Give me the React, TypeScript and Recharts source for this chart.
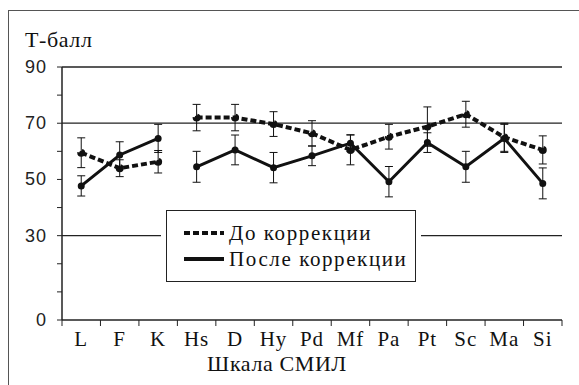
import React from "react";
import {
  ComposedChart,
  ErrorBar,
  Legend,
  Line,
  ReferenceLine,
  XAxis,
  YAxis
} from "recharts";

// MMPI (СМИЛ) scales
const scales = ["L", "F", "K", "Hs", "D", "Hy", "Pd", "Mf", "Pa", "Pt", "Sc", "Ma", "Si"];

// mean T-scores and their spread
const before = [59.5, 54, 56.3, 72, 72, 69.7, 66.4, 60.5, 65.2, 68.8, 73.2, 65, 60.5];
const beforeErr = [5.3, 3, 4, 4.7, 4.7, 4.4, 4.5, 5.3, 4.4, 7, 4.6, 5, 5];
const after = [47.7, 58.7, 64.6, 54.5, 60.5, 54.2, 58.4, 62.9, 49.2, 63.1, 54.5, 64.6, 48.6];
const afterErr = [3.6, 4.7, 5, 5.5, 5.3, 5.4, 3.5, 3, 5.4, 3.5, 5.5, 5, 5.5];

const yTicks = [0, 10, 20, 30, 40, 50, 60, 70, 80, 90];
const yLabels = [0, 30, 50, 70, 90];
const gridValues = [30, 70];

// validity scales (L, F, K) are drawn apart from the clinical ones
const VALIDITY = 3;

const rows = scales.map((scale, i) => ({
  scale,
  before: before[i],
  beforeErr: beforeErr[i],
  after: after[i],
  afterErr: afterErr[i],
  beforeA: i < VALIDITY ? before[i] : null,
  beforeB: i >= VALIDITY ? before[i] : null,
  afterA: i < VALIDITY ? after[i] : null,
  afterB: i >= VALIDITY ? after[i] : null
}));

const SERIF = "Liberation Serif, Times New Roman, serif";
const SANS = "Liberation Sans, Arial, sans-serif";
const INK = "#111";

function YTick(props: any) {
  const { x, y, payload } = props;
  if (!yLabels.includes(payload.value)) return null;
  return (
    <text
      x={x - 8}
      y={y}
      dy={6}
      textAnchor="end"
      fontFamily={SANS}
      fontSize={18}
      letterSpacing={1}
      fill="#222"
    >
      {payload.value}
    </text>
  );
}

// category label at band centre, tick marks on the band edges
function XTick(props: any) {
  const { x, y, payload, index, visibleTicksCount } = props;
  const half = payload.offset ?? 0;
  const last = index === visibleTicksCount - 1;
  return (
    <g>
      <line x1={x - half} y1={y} x2={x - half} y2={y + 6} stroke="#222" />
      {last && <line x1={x + half} y1={y} x2={x + half} y2={y + 6} stroke="#222" />}
      <text
        x={x}
        y={y + 11}
        dy="0.71em"
        textAnchor="middle"
        fontFamily={SERIF}
        fontSize={21}
        letterSpacing={1}
        fill={INK}
      >
        {payload.value}
      </text>
    </g>
  );
}

function LegendBox() {
  const item = (label: string, dash?: string) => (
    <div style={{ display: "flex", alignItems: "center", height: 26 }}>
      <svg width={42} height={10} style={{ marginRight: 4 }}>
        <line x1={1} y1={5} x2={41} y2={5} stroke={INK} strokeWidth={4} strokeDasharray={dash} />
      </svg>
      <span>{label}</span>
    </div>
  );
  return (
    <div style={{ background: "#fff", padding: "0 5px" }}>
      <div
        style={{
          border: "1.5px solid #222",
          padding: "9px 8px 9px 16px",
          fontFamily: SERIF,
          fontSize: 21,
          letterSpacing: 1.6,
          color: INK,
          lineHeight: 1
        }}
      >
        {item("До коррекции", "6 3")}
        {item("После коррекции")}
      </div>
    </div>
  );
}

export default function App() {
  return (
    <div
      style={{
        position: "absolute",
        left: 0,
        top: 0,
        width: 579,
        height: 385,
        background: "#fff",
        overflow: "hidden"
      }}
    >
      <div
        style={{
          position: "absolute",
          left: 8,
          top: 10,
          right: -2,
          bottom: -2,
          borderLeft: "1.5px solid #555",
          borderTop: "1.5px solid #555"
        }}
      />
      <div
        style={{
          position: "absolute",
          left: 25,
          top: 27,
          fontFamily: SERIF,
          fontSize: 22,
          letterSpacing: 0.6,
          color: INK
        }}
      >
        Т-балл
      </div>
      <ComposedChart
        width={579}
        height={385}
        data={rows}
        margin={{ top: 67, right: 17, bottom: 35, left: 22 }}
        style={{ position: "absolute", left: 0, top: 0 }}
      >
        <XAxis
          xAxisId="main"
          dataKey="scale"
          type="category"
          scale="band"
          height={30}
          tickLine={false}
          tickSize={0}
          tickMargin={0}
          axisLine={{ stroke: "#222", strokeWidth: 1.5 }}
          tick={<XTick />}
          interval={0}
        />
        <YAxis
          yAxisId="l"
          domain={[0, 90]}
          ticks={yTicks}
          width={40}
          tickSize={5}
          tick={<YTick />}
          tickLine={{ stroke: "#222" }}
          axisLine={{ stroke: "#222", strokeWidth: 1.5 }}
          interval={0}
        />
        <YAxis
          yAxisId="r"
          orientation="right"
          domain={[0, 90]}
          width={0}
          tick={false}
          tickLine={false}
          axisLine={{ stroke: "#222", strokeWidth: 1.5 }}
        />
        <ReferenceLine yAxisId="l" xAxisId="main" y={90} stroke="#222" strokeWidth={1.5} />
        {gridValues.map((v) => (
          <ReferenceLine key={v} yAxisId="l" xAxisId="main" y={v} stroke="#222" strokeWidth={1.2} />
        ))}
        <Legend
          layout="vertical"
          align="center"
          verticalAlign="middle"
          content={() => <LegendBox />}
          wrapperStyle={{ position: "absolute", left: 161, top: 210, width: "auto" }}
        />

        {/* error bars, carried by invisible full-length series */}
        <Line
          xAxisId="main"
          yAxisId="l"
          dataKey="before"
          stroke="none"
          dot={false}
          activeDot={false}
          legendType="none"
          isAnimationActive={false}
        >
          <ErrorBar dataKey="beforeErr" width={4} stroke={INK} strokeWidth={1} />
        </Line>
        <Line
          xAxisId="main"
          yAxisId="l"
          dataKey="after"
          stroke="none"
          dot={false}
          activeDot={false}
          legendType="none"
          isAnimationActive={false}
        >
          <ErrorBar dataKey="afterErr" width={4} stroke={INK} strokeWidth={1} />
        </Line>

        {/* before correction: dashed */}
        {["beforeA", "beforeB"].map((k) => (
          <Line
            key={k}
            xAxisId="main"
            yAxisId="l"
            dataKey={k}
            stroke={INK}
            strokeWidth={4}
            strokeDasharray="6 3"
            dot={{ r: 2, fill: INK, stroke: INK }}
            isAnimationActive={false}
          />
        ))}
        {/* after correction: solid */}
        {["afterA", "afterB"].map((k) => (
          <Line
            key={k}
            xAxisId="main"
            yAxisId="l"
            dataKey={k}
            stroke={INK}
            strokeWidth={3}
            dot={{ r: 2, fill: INK, stroke: INK }}
            isAnimationActive={false}
          />
        ))}
      </ComposedChart>
      <div
        style={{
          position: "absolute",
          left: 277,
          top: 351,
          transform: "translateX(-50%)",
          fontFamily: SERIF,
          fontSize: 22,
          letterSpacing: 0.6,
          color: INK,
          whiteSpace: "nowrap"
        }}
      >
        Шкала СМИЛ
      </div>
    </div>
  );
}
